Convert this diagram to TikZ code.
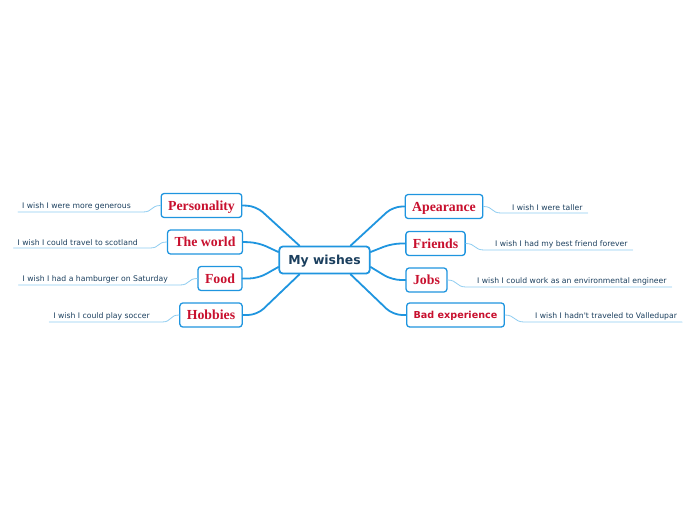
\documentclass[tikz,border=0pt]{standalone}
\usepackage{fontspec}
\setmainfont{Liberation Serif}
\newfontfamily\leaffont{DejaVu Sans}
\usetikzlibrary{calc}
\definecolor{trunk}{HTML}{1F95DF}
\definecolor{twig}{HTML}{8ECCF0}
\definecolor{wish}{HTML}{C8102E}
\definecolor{ink}{HTML}{1B3F5E}
\tikzset{
  every picture/.style={line cap=round, line join=round},
  hub/.style={draw=trunk, fill=white, rounded corners=3.5pt, line width=1.8pt,
    inner xsep=9pt, minimum height=27pt, text=ink, text height=9pt, text depth=0pt,
    font=\leaffont\fontsize{12.4}{14}\selectfont\bfseries},
  branch/.style={draw=trunk, fill=white, rounded corners=3pt, line width=1.3pt,
    inner xsep=7pt, minimum height=24pt, text=wish, text height=9.2pt, text depth=0pt,
    font=\fontsize{13.8}{15}\selectfont\bfseries},
  sansbranch/.style={branch, text height=7pt, font=\leaffont\fontsize{9.6}{11}\selectfont\bfseries},
  leaf/.style={inner xsep=0pt, inner ysep=2pt, text=ink,
    font=\leaffont\fontsize{7.7}{9}\selectfont},
  limb/.style={draw=trunk, line width=1.8pt, rounded corners=9pt},
  twigline/.style={draw=twig, line width=0.8pt},
}
\begin{document}
\begin{tikzpicture}[x=1pt, y=-1pt]
  \useasboundingbox (0,0) rectangle (696,520);

  % ---------------- centre ----------------
  \node[hub] (hub) at (324.5,260) {My wishes};

  % ---------------- left branches ----------------
  \node[branch] (pers)  at (201.5,205.5) {Personality};
  \node[branch] (world) at (205,242) {The world};
  \node[branch] (food)  at (220,278.5) {Food};
  \node[branch] (hobby) at (211,315) {Hobbies};

  % ---------------- right branches ----------------
  \node[branch] (look)    at (444,206.5) {Apearance};
  \node[branch] (friends) at (435.5,243.5) {Friends};
  \node[branch] (jobs)    at (426.5,280) {Jobs};
  \node[sansbranch] (bad) at (455.5,315) {Bad experience};

  \draw[limb] ($(hub.north west)+(21,0)$) -- (256,206) -- (pers.east);
  \draw[limb] ($(hub.west)+(0,-8)$) -- (258,242.5) -- (world.east);
  \draw[limb] ($(hub.west)+(0,7)$) -- (258,278.5) -- (food.east);
  \draw[limb] ($(hub.south west)+(21,0)$) -- (257,315) -- (hobby.east);
  \draw[limb] ($(hub.north east)+(-20,0)$) -- (393,206.5) -- (look.west);
  \draw[limb] ($(hub.east)+(0,-8)$) -- (392,243.5) -- (friends.west);
  \draw[limb] ($(hub.east)+(0,7)$) -- (392,280) -- (jobs.west);
  \draw[limb] ($(hub.south east)+(-20,0)$) -- (393,315) -- (bad.west);

  % ---------------- wishes ----------------
  \node[leaf, anchor=south east] (w1) at (131,212) {I wish I were more generous};
  \node[leaf, anchor=south east] (w2) at (138,248) {I wish I could travel to scotland};
  \node[leaf, anchor=south east] (w3) at (168,285) {I wish I had a hamburger on Saturday};
  \node[leaf, anchor=south east] (w4) at (150,322) {I wish I could play soccer};
  \node[leaf, anchor=south west] (w5) at (512,213) {I wish I were taller};
  \node[leaf, anchor=south west] (w6) at (495,250) {I wish I had my best friend forever};
  \node[leaf, anchor=south west] (w7) at (477,287) {I wish I could work as an environmental engineer};
  \node[leaf, anchor=south west] (w8) at (535,322) {I wish I hadn't traveled to Valledupar};

  \foreach \b/\w in {pers/w1, world/w2, food/w3, hobby/w4}
    \draw[twigline] (\b.west) .. controls +(-10,0) and +(10,0) .. ($(\w.south east)+(12,0)$)
      -- ($(\w.south west)+(-4,0)$);
  \foreach \b/\w in {look/w5, friends/w6, jobs/w7, bad/w8}
    \draw[twigline] (\b.east) .. controls +(10,0) and +(-10,0) .. ($(\w.south west)+(-11,0)$)
      -- ($(\w.south east)+(5,0)$);
\end{tikzpicture}
\end{document}
